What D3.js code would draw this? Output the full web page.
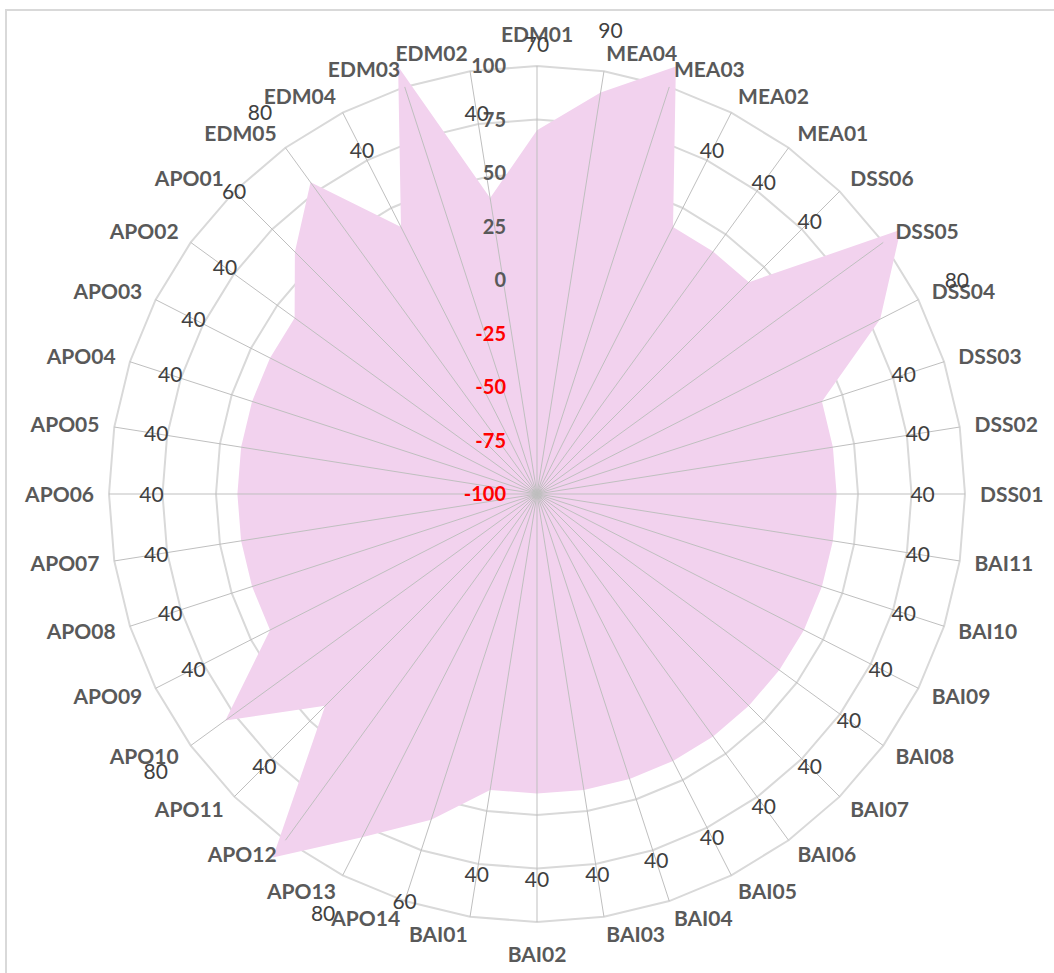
<!DOCTYPE html>
<html>
<head>
<meta charset="utf-8">
<script src="https://cdn.jsdelivr.net/npm/d3@7"></script>
<style>
body { margin: 0; background: #fff; }
svg text { font-family: Lato, "Open Sans", sans-serif; }
</style>
</head>
<body>
<div id="chart"></div>
<script>
// categories in clockwise order from the top
var categories = ["EDM01", "MEA04", "MEA03", "MEA02", "MEA01",
    "DSS06", "DSS05", "DSS04", "DSS03", "DSS02", "DSS01",
    "BAI11", "BAI10", "BAI09", "BAI08", "BAI07", "BAI06", "BAI05", "BAI04", "BAI03", "BAI02", "BAI01",
    "APO14", "APO13", "APO12", "APO11", "APO10", "APO09", "APO08", "APO07", "APO06", "APO05",
    "APO04", "APO03", "APO02", "APO01",
    "EDM05", "EDM04", "EDM03", "EDM02"]

var values = [70, 90, 110, 40, 40,
    40, 110, 80, 40, 40, 40,
    40, 40, 40, 40, 40, 40, 40, 40, 40, 40, 40,
    60, 80, 110, 40, 80, 40, 40, 40, 40, 40,
    40, 40, 40, 60,
    80, 40, 110, 40]

var tickValues = [-100, -75, -50, -25, 0, 25, 50, 75, 100]

var width = 1054, height = 973
var cx = 537, cy = 494, radius = 428

var svg = d3.select("#chart").append("svg")
    .attr("width", width)
    .attr("height", height)

// chart border (runs off the right/bottom edge)
svg.append("rect")
    .attr("x", 6).attr("y", 10)
    .attr("width", 1200).attr("height", 1200)
    .attr("fill", "none")
    .attr("stroke", "#d9d9d9")
    .attr("stroke-width", 2)

var g = svg.append("g").attr("transform", "translate(" + cx + "," + cy + ")")

var r = d3.scaleLinear().domain([-100, 100]).range([0, radius])
var angle = d3.scaleLinear().domain([0, categories.length]).range([0, 2 * Math.PI])

// rings
var ringLine = d3.lineRadial()
    .angle((d, i) => angle(i))
    .curve(d3.curveLinearClosed)

g.selectAll(".ring")
    .data(tickValues.slice(1))
    .enter().append("path")
    .attr("class", "ring")
    .attr("d", (t) => ringLine.radius(r(t))(categories))
    .attr("fill", "none")
    .attr("stroke", "#d9d9d9")
    .attr("stroke-width", 2)

// data area
var area = d3.lineRadial()
    .angle((d, i) => angle(i))
    .radius((d) => r(d))
    .curve(d3.curveLinearClosed)

g.append("path")
    .attr("d", area(values))
    .attr("fill", "#f2d2ee")

// spokes
g.selectAll(".spoke")
    .data(categories)
    .enter().append("line")
    .attr("class", "spoke")
    .attr("x1", 0).attr("y1", 0)
    .attr("x2", (d, i) => radius * Math.sin(angle(i)))
    .attr("y2", (d, i) => -radius * Math.cos(angle(i)))
    .attr("stroke", "#bfbfbf")
    .attr("stroke-width", 1)

// value axis labels
g.selectAll(".tick")
    .data(tickValues)
    .enter().append("text")
    .attr("class", "tick")
    .attr("x", -31)
    .attr("y", (t) => -r(t))
    .attr("dy", "0.36em")
    .attr("text-anchor", "end")
    .style("font-size", "20px")
    .style("font-weight", "bold")
    .style("fill", (t) => t < 0 ? "#ff0000" : "#595959")
    .text((t) => t)

// category labels
var labR = 443
g.selectAll(".cat")
    .data(categories)
    .enter().append("text")
    .attr("class", "cat")
    .each(function(d, i) {
        var a = angle(i), s = Math.sin(a), c = Math.cos(a)
        var anchor = Math.abs(s) < 0.01 ? "middle" : (s > 0 ? "start" : "end")
        var shift = Math.abs(s) < 0.01 ? 17 : 3
        d3.select(this)
            .attr("x", labR * s)
            .attr("y", -labR * c - c * shift)
            .attr("dy", "0.36em")
            .attr("text-anchor", anchor)
    })
    .style("font-size", "21px")
    .style("font-weight", "bold")
    .style("fill", "#595959")
    .text((d) => d)

// data labels (points beyond the axis max have their labels pushed out of the chart)
var points = values.map((v, i) => ({ v: v, i: i })).filter((p) => p.v <= 100)

g.selectAll(".val")
    .data(points)
    .enter().append("text")
    .attr("class", "val")
    .each(function(p) {
        var a = angle(p.i), s = Math.sin(a), c = Math.cos(a)
        var lr = r(p.v) + 86
        if (cy - lr * c < 30) lr = (cy - 30) / c
        d3.select(this)
            .attr("x", lr * s)
            .attr("y", -lr * c)
            .attr("dy", "0.36em")
            .attr("text-anchor", "middle")
    })
    .style("font-size", "21px")
    .style("fill", "#404040")
    .text((p) => p.v)
</script>
</body>
</html>
